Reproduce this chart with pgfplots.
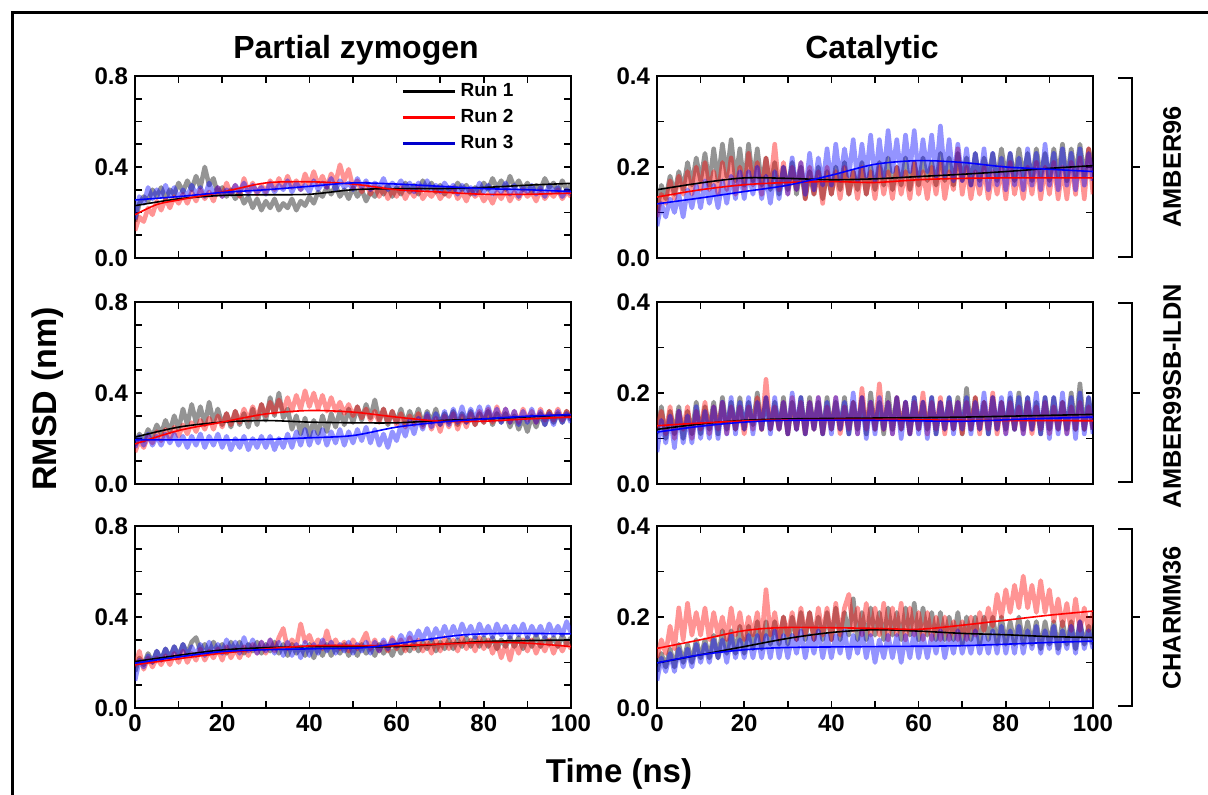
\documentclass[border=0pt]{standalone}
\usepackage{fontspec}
\setmainfont{Liberation Sans}
\usepackage{pgfplots}
\usepackage{pgfplotstable}
\pgfplotsset{compat=1.18}

\pgfplotsset{
  panel/.style={
    scale only axis, width=218pt, height=91pt,
    xmin=0, xmax=100,
    xtick={0,20,...,100}, minor xtick={10,30,50,70,90},
    tick align=inside, major tick length=3.5pt, minor tick length=3.5pt,
    axis line style={line width=1pt},
    tick style={line width=0.8pt, black},
    ticklabel style={font=\bfseries\fontsize{12}{12}\selectfont},
    /pgf/number format/assume math mode=true,
    yticklabel style={/pgf/number format/fixed, /pgf/number format/fixed zerofill, /pgf/number format/precision=1},
  },
  lpanel/.style={panel, ymin=0, ymax=0.8, ytick={0,0.4,0.8}, minor ytick={0.1,0.2,0.3,0.5,0.6,0.7}},
  rpanel/.style={panel, ymin=0, ymax=0.4, ytick={0,0.2,0.4}, minor ytick={0.1,0.3}},
  notx/.style={xticklabels={}},
  noisy/.style={line width=2.3pt, draw opacity=0.42, no markers, line join=round, forget plot},
  fit/.style={line width=0.8pt, smooth, no markers, forget plot},
  myleg/.style={legend image code/.code={\draw[##1, line width=1.6pt] (0pt,0pt) -- (26pt,0pt);}},
}

% raw RMSD traces, one row per ns (columns: run 1, run 2, run 3)
\pgfplotstableread{
a b c
0.16 0.12 0.17
0.24 0.18 0.27
0.27 0.16 0.24
0.25 0.22 0.31
0.30 0.19 0.26
0.27 0.25 0.30
0.31 0.21 0.27
0.26 0.26 0.32
0.30 0.22 0.27
0.28 0.27 0.31
0.33 0.24 0.26
0.29 0.28 0.30
0.34 0.24 0.27
0.30 0.29 0.32
0.36 0.25 0.28
0.31 0.30 0.31
0.40 0.26 0.27
0.32 0.29 0.33
0.35 0.25 0.28
0.28 0.31 0.31
0.31 0.27 0.27
0.27 0.33 0.30
0.30 0.28 0.28
0.26 0.32 0.32
0.29 0.27 0.29
0.24 0.35 0.33
0.27 0.29 0.28
0.22 0.33 0.32
0.26 0.28 0.29
0.21 0.32 0.31
0.25 0.29 0.28
0.22 0.34 0.33
0.26 0.30 0.29
0.21 0.35 0.32
0.24 0.31 0.30
0.22 0.36 0.34
0.26 0.31 0.29
0.21 0.34 0.33
0.25 0.30 0.30
0.23 0.37 0.32
0.27 0.32 0.29
0.24 0.38 0.34
0.29 0.32 0.30
0.27 0.36 0.33
0.31 0.31 0.31
0.28 0.37 0.35
0.32 0.33 0.30
0.27 0.41 0.34
0.30 0.34 0.31
0.26 0.39 0.33
0.31 0.31 0.30
0.27 0.34 0.35
0.30 0.29 0.31
0.25 0.33 0.34
0.29 0.28 0.30
0.27 0.32 0.33
0.31 0.27 0.31
0.28 0.31 0.35
0.32 0.26 0.30
0.27 0.30 0.33
0.31 0.27 0.31
0.28 0.31 0.34
0.33 0.26 0.30
0.29 0.30 0.33
0.32 0.27 0.29
0.28 0.31 0.33
0.34 0.26 0.30
0.30 0.29 0.34
0.33 0.27 0.30
0.29 0.30 0.32
0.32 0.26 0.29
0.28 0.29 0.33
0.31 0.27 0.30
0.29 0.31 0.32
0.33 0.26 0.28
0.30 0.29 0.32
0.32 0.25 0.29
0.28 0.30 0.31
0.31 0.27 0.28
0.29 0.29 0.33
0.33 0.25 0.29
0.30 0.28 0.32
0.35 0.24 0.28
0.31 0.29 0.31
0.34 0.26 0.29
0.30 0.30 0.33
0.36 0.25 0.28
0.31 0.29 0.32
0.34 0.26 0.27
0.30 0.30 0.31
0.33 0.27 0.29
0.29 0.29 0.32
0.32 0.25 0.28
0.30 0.30 0.31
0.35 0.26 0.27
0.31 0.29 0.32
0.33 0.27 0.29
0.29 0.30 0.31
0.34 0.26 0.27
0.30 0.29 0.30
0.32 0.27 0.28
}\tA

\pgfplotstableread{
a b c
0.10 0.09 0.07
0.16 0.14 0.12
0.13 0.12 0.09
0.18 0.17 0.13
0.14 0.13 0.10
0.19 0.18 0.14
0.15 0.14 0.09
0.21 0.19 0.15
0.16 0.14 0.11
0.22 0.20 0.16
0.17 0.15 0.11
0.23 0.21 0.17
0.16 0.15 0.12
0.24 0.19 0.16
0.17 0.14 0.11
0.25 0.21 0.17
0.18 0.15 0.12
0.26 0.22 0.18
0.17 0.14 0.13
0.24 0.20 0.19
0.16 0.15 0.13
0.25 0.23 0.19
0.17 0.16 0.14
0.24 0.21 0.20
0.16 0.14 0.13
0.22 0.22 0.18
0.15 0.16 0.12
0.21 0.25 0.19
0.14 0.15 0.13
0.20 0.21 0.20
0.15 0.14 0.14
0.21 0.20 0.22
0.14 0.15 0.15
0.20 0.21 0.21
0.13 0.13 0.14
0.19 0.20 0.23
0.14 0.14 0.15
0.20 0.19 0.22
0.13 0.12 0.16
0.19 0.20 0.24
0.14 0.14 0.16
0.20 0.19 0.25
0.15 0.13 0.17
0.21 0.20 0.24
0.14 0.14 0.18
0.19 0.19 0.26
0.15 0.13 0.17
0.21 0.20 0.25
0.14 0.14 0.18
0.20 0.19 0.27
0.15 0.13 0.17
0.21 0.20 0.26
0.16 0.14 0.18
0.22 0.19 0.28
0.15 0.13 0.19
0.20 0.20 0.26
0.16 0.14 0.18
0.22 0.19 0.27
0.15 0.13 0.19
0.21 0.21 0.28
0.16 0.14 0.18
0.22 0.19 0.26
0.17 0.13 0.19
0.21 0.20 0.27
0.16 0.14 0.18
0.23 0.21 0.29
0.17 0.13 0.18
0.22 0.19 0.26
0.16 0.15 0.17
0.23 0.24 0.25
0.17 0.14 0.17
0.22 0.20 0.24
0.16 0.13 0.16
0.23 0.19 0.23
0.17 0.14 0.16
0.22 0.20 0.24
0.18 0.13 0.15
0.23 0.19 0.23
0.17 0.14 0.16
0.24 0.20 0.22
0.18 0.13 0.15
0.23 0.21 0.23
0.17 0.14 0.16
0.24 0.19 0.22
0.18 0.13 0.15
0.23 0.20 0.24
0.17 0.14 0.16
0.24 0.21 0.23
0.18 0.13 0.15
0.23 0.20 0.25
0.17 0.14 0.16
0.24 0.21 0.23
0.18 0.13 0.15
0.25 0.20 0.24
0.17 0.13 0.16
0.24 0.21 0.23
0.18 0.14 0.15
0.25 0.22 0.24
0.18 0.13 0.16
0.24 0.24 0.23
0.19 0.14 0.17
}\tB

\pgfplotstableread{
a b c
0.17 0.14 0.16
0.22 0.19 0.21
0.19 0.16 0.17
0.24 0.21 0.22
0.21 0.18 0.17
0.26 0.23 0.21
0.22 0.19 0.17
0.28 0.24 0.22
0.23 0.20 0.18
0.30 0.25 0.22
0.24 0.21 0.17
0.33 0.26 0.21
0.26 0.22 0.16
0.35 0.27 0.21
0.27 0.23 0.17
0.34 0.28 0.22
0.26 0.24 0.16
0.36 0.29 0.21
0.27 0.24 0.17
0.33 0.30 0.22
0.26 0.25 0.16
0.31 0.31 0.21
0.25 0.26 0.15
0.32 0.32 0.20
0.26 0.27 0.16
0.31 0.33 0.21
0.25 0.28 0.15
0.33 0.34 0.20
0.26 0.29 0.16
0.35 0.35 0.21
0.28 0.30 0.16
0.38 0.36 0.21
0.30 0.31 0.15
0.40 0.37 0.20
0.29 0.32 0.16
0.33 0.38 0.22
0.24 0.32 0.16
0.30 0.39 0.23
0.22 0.33 0.17
0.29 0.41 0.24
0.21 0.34 0.17
0.28 0.40 0.23
0.22 0.33 0.18
0.30 0.39 0.24
0.23 0.32 0.17
0.31 0.38 0.23
0.25 0.32 0.18
0.32 0.36 0.24
0.26 0.31 0.17
0.33 0.35 0.23
0.27 0.30 0.18
0.34 0.34 0.24
0.28 0.29 0.19
0.35 0.33 0.25
0.29 0.28 0.18
0.37 0.32 0.24
0.28 0.27 0.17
0.33 0.33 0.22
0.26 0.27 0.16
0.32 0.32 0.23
0.27 0.26 0.19
0.33 0.31 0.26
0.26 0.25 0.21
0.32 0.30 0.28
0.27 0.26 0.22
0.33 0.31 0.29
0.26 0.25 0.24
0.32 0.30 0.31
0.27 0.24 0.25
0.33 0.29 0.31
0.26 0.23 0.26
0.31 0.30 0.32
0.27 0.25 0.26
0.32 0.31 0.33
0.26 0.24 0.27
0.31 0.30 0.34
0.27 0.25 0.27
0.32 0.31 0.33
0.26 0.26 0.28
0.31 0.32 0.34
0.27 0.27 0.28
0.32 0.33 0.34
0.26 0.27 0.28
0.31 0.34 0.33
0.27 0.28 0.27
0.31 0.33 0.33
0.25 0.27 0.27
0.30 0.32 0.32
0.24 0.27 0.26
0.29 0.33 0.32
0.23 0.28 0.27
0.30 0.32 0.33
0.25 0.27 0.27
0.31 0.33 0.32
0.26 0.28 0.26
0.32 0.32 0.31
0.27 0.28 0.26
0.31 0.33 0.32
0.27 0.28 0.27
0.32 0.32 0.31
0.28 0.29 0.27
}\tC

\pgfplotstableread{
a b c
0.11 0.12 0.07
0.17 0.16 0.14
0.10 0.11 0.09
0.16 0.17 0.15
0.11 0.10 0.08
0.17 0.16 0.16
0.10 0.12 0.09
0.16 0.17 0.15
0.11 0.10 0.09
0.18 0.16 0.17
0.11 0.12 0.10
0.17 0.18 0.16
0.12 0.11 0.10
0.18 0.17 0.17
0.11 0.12 0.10
0.19 0.18 0.18
0.12 0.11 0.11
0.18 0.17 0.19
0.12 0.12 0.11
0.19 0.17 0.18
0.12 0.11 0.12
0.18 0.17 0.19
0.13 0.12 0.11
0.20 0.19 0.18
0.12 0.12 0.12
0.19 0.23 0.19
0.12 0.12 0.11
0.18 0.17 0.19
0.12 0.12 0.12
0.19 0.18 0.18
0.11 0.11 0.11
0.18 0.19 0.20
0.12 0.12 0.12
0.19 0.18 0.19
0.11 0.11 0.11
0.19 0.18 0.18
0.12 0.12 0.12
0.18 0.19 0.19
0.11 0.11 0.11
0.19 0.17 0.18
0.12 0.12 0.11
0.18 0.19 0.19
0.12 0.11 0.12
0.19 0.17 0.18
0.11 0.12 0.11
0.18 0.18 0.20
0.12 0.11 0.11
0.19 0.21 0.19
0.11 0.12 0.10
0.20 0.18 0.18
0.12 0.12 0.11
0.18 0.22 0.19
0.11 0.12 0.12
0.20 0.18 0.18
0.12 0.11 0.11
0.19 0.19 0.19
0.12 0.12 0.10
0.18 0.18 0.18
0.11 0.11 0.11
0.19 0.18 0.19
0.12 0.12 0.11
0.18 0.20 0.18
0.12 0.11 0.10
0.19 0.18 0.19
0.11 0.12 0.11
0.18 0.19 0.18
0.12 0.11 0.12
0.19 0.18 0.19
0.12 0.12 0.11
0.19 0.18 0.18
0.11 0.11 0.12
0.21 0.18 0.19
0.12 0.12 0.11
0.19 0.19 0.18
0.12 0.11 0.12
0.18 0.18 0.20
0.11 0.12 0.11
0.19 0.20 0.19
0.12 0.11 0.12
0.18 0.18 0.19
0.12 0.11 0.11
0.19 0.18 0.20
0.12 0.12 0.12
0.20 0.17 0.19
0.12 0.11 0.11
0.19 0.18 0.19
0.12 0.11 0.12
0.18 0.17 0.20
0.11 0.12 0.11
0.19 0.18 0.19
0.12 0.11 0.10
0.19 0.17 0.19
0.12 0.12 0.11
0.18 0.18 0.20
0.12 0.11 0.11
0.20 0.17 0.19
0.12 0.12 0.10
0.22 0.18 0.20
0.12 0.12 0.11
0.19 0.17 0.19
0.12 0.12 0.11
}\tD

\pgfplotstableread{
a b c
0.16 0.18 0.12
0.22 0.25 0.21
0.19 0.17 0.18
0.24 0.22 0.23
0.20 0.18 0.20
0.25 0.22 0.25
0.21 0.19 0.21
0.26 0.23 0.26
0.22 0.19 0.22
0.27 0.24 0.27
0.23 0.20 0.22
0.28 0.25 0.28
0.24 0.20 0.23
0.29 0.24 0.27
0.31 0.21 0.23
0.25 0.26 0.28
0.28 0.21 0.23
0.24 0.25 0.29
0.29 0.22 0.24
0.25 0.26 0.28
0.28 0.21 0.24
0.24 0.27 0.30
0.29 0.22 0.25
0.25 0.26 0.29
0.29 0.22 0.24
0.24 0.27 0.31
0.28 0.23 0.25
0.25 0.28 0.30
0.29 0.24 0.24
0.24 0.29 0.29
0.28 0.24 0.25
0.25 0.30 0.30
0.29 0.25 0.24
0.24 0.31 0.29
0.28 0.35 0.23
0.23 0.26 0.29
0.28 0.30 0.23
0.24 0.27 0.28
0.27 0.37 0.22
0.23 0.29 0.29
0.28 0.32 0.23
0.22 0.27 0.28
0.27 0.30 0.24
0.23 0.26 0.30
0.28 0.34 0.25
0.23 0.27 0.29
0.27 0.30 0.24
0.24 0.26 0.28
0.28 0.29 0.25
0.23 0.25 0.29
0.27 0.30 0.24
0.23 0.26 0.28
0.28 0.29 0.25
0.24 0.33 0.29
0.27 0.26 0.24
0.23 0.30 0.29
0.28 0.25 0.25
0.24 0.29 0.30
0.27 0.25 0.26
0.23 0.31 0.30
0.28 0.26 0.27
0.24 0.30 0.32
0.28 0.25 0.28
0.25 0.31 0.33
0.29 0.26 0.29
0.25 0.30 0.34
0.29 0.25 0.30
0.26 0.29 0.35
0.30 0.24 0.30
0.25 0.30 0.35
0.29 0.25 0.31
0.26 0.31 0.36
0.30 0.26 0.31
0.26 0.30 0.36
0.30 0.25 0.31
0.27 0.31 0.37
0.31 0.26 0.32
0.27 0.30 0.36
0.31 0.25 0.31
0.27 0.31 0.37
0.31 0.26 0.32
0.27 0.30 0.36
0.31 0.24 0.31
0.26 0.29 0.37
0.30 0.22 0.32
0.27 0.28 0.36
0.31 0.21 0.31
0.27 0.29 0.36
0.31 0.24 0.32
0.26 0.30 0.37
0.31 0.25 0.31
0.27 0.30 0.36
0.32 0.24 0.32
0.27 0.29 0.36
0.31 0.25 0.31
0.28 0.30 0.37
0.31 0.24 0.32
0.27 0.29 0.36
0.32 0.25 0.32
0.28 0.29 0.38
0.31 0.26 0.33
}\tE

\pgfplotstableread{
a b c
0.08 0.11 0.06
0.12 0.15 0.11
0.09 0.12 0.08
0.13 0.18 0.12
0.09 0.13 0.08
0.14 0.22 0.13
0.10 0.15 0.09
0.14 0.23 0.13
0.10 0.16 0.09
0.15 0.21 0.14
0.11 0.16 0.10
0.15 0.22 0.14
0.11 0.15 0.10
0.16 0.21 0.15
0.11 0.16 0.11
0.17 0.20 0.15
0.12 0.15 0.10
0.17 0.22 0.16
0.12 0.16 0.11
0.18 0.21 0.15
0.12 0.15 0.11
0.18 0.20 0.16
0.13 0.16 0.11
0.19 0.21 0.16
0.13 0.15 0.11
0.19 0.26 0.16
0.14 0.16 0.11
0.19 0.21 0.17
0.14 0.15 0.11
0.20 0.20 0.16
0.14 0.16 0.11
0.20 0.21 0.16
0.15 0.15 0.12
0.21 0.22 0.17
0.15 0.16 0.11
0.21 0.21 0.16
0.15 0.15 0.12
0.20 0.22 0.17
0.15 0.16 0.11
0.21 0.22 0.16
0.15 0.15 0.11
0.22 0.23 0.16
0.15 0.16 0.12
0.21 0.22 0.17
0.16 0.25 0.11
0.24 0.17 0.16
0.15 0.22 0.12
0.21 0.16 0.17
0.15 0.23 0.11
0.22 0.16 0.16
0.16 0.22 0.10
0.21 0.16 0.15
0.15 0.23 0.11
0.22 0.15 0.16
0.16 0.22 0.11
0.21 0.16 0.16
0.15 0.23 0.10
0.22 0.15 0.16
0.16 0.22 0.11
0.23 0.16 0.17
0.15 0.21 0.11
0.22 0.15 0.16
0.16 0.21 0.11
0.21 0.15 0.16
0.15 0.20 0.12
0.21 0.15 0.17
0.15 0.20 0.11
0.20 0.15 0.16
0.15 0.19 0.12
0.21 0.15 0.17
0.14 0.19 0.12
0.20 0.15 0.16
0.15 0.20 0.12
0.20 0.16 0.17
0.14 0.21 0.12
0.20 0.17 0.16
0.15 0.22 0.12
0.20 0.18 0.17
0.14 0.25 0.12
0.20 0.20 0.18
0.14 0.26 0.12
0.19 0.21 0.17
0.14 0.27 0.12
0.20 0.22 0.18
0.14 0.29 0.12
0.19 0.22 0.17
0.14 0.27 0.13
0.19 0.21 0.18
0.13 0.28 0.12
0.19 0.21 0.17
0.14 0.26 0.13
0.19 0.19 0.18
0.13 0.24 0.12
0.19 0.18 0.17
0.14 0.23 0.13
0.19 0.17 0.18
0.13 0.24 0.12
0.19 0.17 0.19
0.14 0.22 0.13
0.18 0.17 0.17
0.14 0.21 0.13
}\tF

\begin{document}
\begin{tikzpicture}[x=0.5pt,y=-0.5pt]
\useasboundingbox (0,0) rectangle (1208,795);
% outer frame (cropped at right and bottom)
\draw[line width=1.5pt] (12,800) -- (12,13) -- (1215,13);

% ---- row 1: AMBER96
\begin{axis}[lpanel, notx, at={(67.5pt,-129pt)}, anchor=south west, myleg,
  legend style={at={(0.61,0.985)}, anchor=north west, draw=none, fill=none,
    font=\bfseries\fontsize{9.5}{11}\selectfont, inner sep=0pt, row sep=1pt},
  legend cell align=left]
\addplot[noisy, black] table[x expr=\coordindex, y=a] {\tA};
\addplot[noisy, red] table[x expr=\coordindex, y=b] {\tA};
\addplot[noisy, blue] table[x expr=\coordindex, y=c] {\tA};
\addplot[fit, black] coordinates {(0,0.23)(10,0.26)(20,0.275)(30,0.278)(40,0.28)(50,0.30)(60,0.305)(70,0.305)(80,0.31)(90,0.32)(100,0.328)};
\addplot[fit, red] coordinates {(0,0.19)(5,0.235)(10,0.255)(20,0.29)(30,0.33)(40,0.335)(50,0.325)(60,0.30)(70,0.29)(80,0.28)(90,0.28)(100,0.285)};
\addplot[fit, blue] coordinates {(0,0.255)(10,0.27)(20,0.288)(30,0.30)(40,0.315)(50,0.33)(60,0.325)(70,0.315)(80,0.305)(90,0.30)(100,0.292)};
\addlegendimage{black}\addlegendentry{Run 1}
\addlegendimage{red}\addlegendentry{Run 2}
\addlegendimage{blue!80!black}\addlegendentry{Run 3}
\end{axis}

\begin{axis}[rpanel, notx, at={(328.5pt,-129pt)}, anchor=south west]
\addplot[noisy, black] table[x expr=\coordindex, y=a] {\tB};
\addplot[noisy, red] table[x expr=\coordindex, y=b] {\tB};
\addplot[noisy, blue] table[x expr=\coordindex, y=c] {\tB};
\addplot[fit, black] coordinates {(0,0.150)(10,0.165)(20,0.176)(30,0.175)(40,0.172)(50,0.174)(60,0.179)(70,0.184)(80,0.190)(90,0.197)(100,0.203)};
\addplot[fit, red] coordinates {(0,0.134)(10,0.15)(20,0.161)(30,0.166)(40,0.168)(50,0.166)(60,0.172)(70,0.175)(80,0.176)(90,0.176)(100,0.176)};
\addplot[fit, blue] coordinates {(0,0.119)(10,0.132)(20,0.146)(30,0.16)(40,0.182)(50,0.206)(60,0.214)(70,0.21)(80,0.2)(90,0.195)(100,0.190)};
\end{axis}

% ---- row 2: AMBER99SB-ILDN
\begin{axis}[lpanel, notx, at={(67.5pt,-242pt)}, anchor=south west]
\addplot[noisy, black] table[x expr=\coordindex, y=a] {\tC};
\addplot[noisy, red] table[x expr=\coordindex, y=b] {\tC};
\addplot[noisy, blue] table[x expr=\coordindex, y=c] {\tC};
\addplot[fit, black] coordinates {(0,0.206)(10,0.25)(20,0.272)(30,0.279)(40,0.272)(50,0.269)(60,0.269)(70,0.279)(80,0.286)(90,0.295)(100,0.305)};
\addplot[fit, red] coordinates {(0,0.176)(10,0.235)(20,0.272)(30,0.308)(40,0.323)(50,0.316)(60,0.294)(70,0.276)(80,0.276)(90,0.286)(100,0.294)};
\addplot[fit, blue] coordinates {(0,0.194)(10,0.194)(20,0.194)(30,0.196)(40,0.203)(50,0.213)(60,0.25)(70,0.272)(80,0.286)(90,0.298)(100,0.305)};
\end{axis}

\begin{axis}[rpanel, notx, at={(328.5pt,-242pt)}, anchor=south west]
\addplot[noisy, black] table[x expr=\coordindex, y=a] {\tD};
\addplot[noisy, red] table[x expr=\coordindex, y=b] {\tD};
\addplot[noisy, blue] table[x expr=\coordindex, y=c] {\tD};
\addplot[fit, black] coordinates {(0,0.12)(10,0.132)(20,0.14)(30,0.143)(50,0.145)(70,0.147)(100,0.153)};
\addplot[fit, red] coordinates {(0,0.128)(10,0.134)(25,0.14)(50,0.142)(70,0.14)(100,0.139)};
\addplot[fit, blue] coordinates {(0,0.114)(10,0.127)(20,0.136)(30,0.14)(50,0.14)(70,0.138)(85,0.143)(100,0.147)};
\end{axis}

% ---- row 3: CHARMM36
\begin{axis}[lpanel, at={(67.5pt,-354pt)}, anchor=south west]
\addplot[noisy, black] table[x expr=\coordindex, y=a] {\tE};
\addplot[noisy, red] table[x expr=\coordindex, y=b] {\tE};
\addplot[noisy, blue] table[x expr=\coordindex, y=c] {\tE};
\addplot[fit, black] coordinates {(0,0.204)(20,0.255)(40,0.27)(60,0.27)(80,0.292)(100,0.299)};
\addplot[fit, red] coordinates {(0,0.19)(20,0.241)(40,0.273)(60,0.274)(80,0.288)(90,0.285)(100,0.27)};
\addplot[fit, blue] coordinates {(0,0.197)(20,0.248)(40,0.26)(50,0.263)(55,0.27)(65,0.296)(75,0.321)(85,0.328)(100,0.326)};
\end{axis}

\begin{axis}[rpanel, at={(328.5pt,-354pt)}, anchor=south west]
\addplot[noisy, black] table[x expr=\coordindex, y=a] {\tF};
\addplot[noisy, red] table[x expr=\coordindex, y=b] {\tF};
\addplot[noisy, blue] table[x expr=\coordindex, y=c] {\tF};
\addplot[fit, black] coordinates {(0,0.099)(10,0.117)(20,0.135)(30,0.153)(40,0.166)(50,0.172)(60,0.169)(70,0.164)(80,0.161)(90,0.157)(100,0.155)};
\addplot[fit, red] coordinates {(0,0.131)(10,0.15)(20,0.17)(30,0.177)(50,0.175)(60,0.173)(70,0.182)(80,0.193)(90,0.204)(100,0.213)};
\addplot[fit, blue] coordinates {(0,0.099)(10,0.117)(20,0.128)(30,0.133)(50,0.135)(70,0.137)(90,0.144)(100,0.147)};
\end{axis}

% titles and labels
\node[anchor=base, font=\bfseries\fontsize{16}{16}\selectfont] at (356,59) {Partial zymogen};
\node[anchor=base, font=\bfseries\fontsize{16}{16}\selectfont] at (872,59) {Catalytic};
\node[anchor=base, font=\bfseries\fontsize{16.5}{16.5}\selectfont] at (619,782) {Time (ns)};
\node[rotate=90, font=\bfseries\fontsize{17}{17}\selectfont] at (48,399) {RMSD (nm)};

% force-field brackets
\draw[line width=1pt] (1118,78) -- (1132,78) -- (1132,257) -- (1118,257);
\draw[line width=1pt] (1132,167) -- (1140,167);
\draw[line width=1pt] (1118,303) -- (1132,303) -- (1132,482) -- (1118,482);
\draw[line width=1pt] (1132,393) -- (1140,393);
\draw[line width=1pt] (1118,529) -- (1132,529) -- (1132,706) -- (1118,706);
\draw[line width=1pt] (1132,617) -- (1140,617);
\node[rotate=90, font=\bfseries\fontsize{12.7}{12.7}\selectfont] at (1172,167) {AMBER96};
\node[rotate=90, font=\bfseries\fontsize{12.7}{12.7}\selectfont] at (1172,396) {AMBER99SB-ILDN};
\node[rotate=90, font=\bfseries\fontsize{12.7}{12.7}\selectfont] at (1172,618) {CHARMM36};
\end{tikzpicture}
\end{document}
